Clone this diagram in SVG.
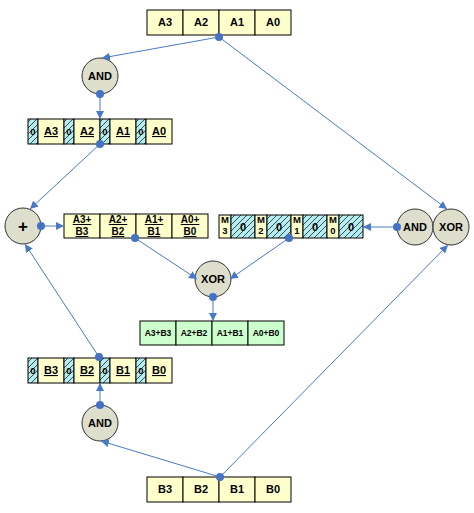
<svg xmlns="http://www.w3.org/2000/svg" width="474" height="513" viewBox="0 0 474 513">
<defs>
<pattern id="hatch" patternUnits="userSpaceOnUse" width="6" height="6">
<rect width="6" height="6" fill="#b4eef2"/>
<path d="M-1,7 L7,-1 M-4,4 L4,-4 M2,10 L10,2" stroke="#222" stroke-width="0.8"/>
</pattern>
<marker id="arr" viewBox="0 0 10 10" refX="10" refY="5" markerWidth="8" markerHeight="8" markerUnits="userSpaceOnUse" orient="auto">
<path d="M0,0 L10,5 L0,10 z" fill="#4a78c8"/>
</marker>
</defs>
<style>
text{font-family:"Liberation Sans",Arial,sans-serif;font-weight:bold;fill:#000;text-anchor:middle}
.y{fill:#ffffcc;stroke:#000;stroke-width:1}
.g{fill:#ccffcc;stroke:#000;stroke-width:1}
.h{fill:url(#hatch);stroke:#000;stroke-width:1}
.c{fill:#dddecb;stroke:#333;stroke-width:1}
.t{font-size:11px}
.s{font-size:10px;text-decoration:underline}
.z{font-size:9.5px}
.r{font-size:8.5px}
.ln{stroke:#4a78c8;stroke-width:1;fill:none;marker-end:url(#arr)}
.d{fill:#4472c4}
</style>

<g id="regA">
<rect class="y" x="147" y="10" width="36" height="25"/>
<rect class="y" x="183" y="10" width="36" height="25"/>
<rect class="y" x="219" y="10" width="36" height="25"/>
<rect class="y" x="255" y="10" width="36" height="25"/>
<text class="t" x="165" y="26">A3</text>
<text class="t" x="201" y="26">A2</text>
<text class="t" x="237" y="26">A1</text>
<text class="t" x="273" y="26">A0</text>
</g>

<g id="andTop">
<circle class="c" cx="100" cy="76" r="18"/>
<text class="t" x="100" y="80">AND</text>
</g>

<g id="regAshift">
<rect class="h" x="28" y="119" width="10" height="25"/>
<rect class="y" x="38" y="119" width="26" height="25"/>
<rect class="h" x="64" y="119" width="10" height="25"/>
<rect class="y" x="74" y="119" width="26" height="25"/>
<rect class="h" x="100" y="119" width="10" height="25"/>
<rect class="y" x="110" y="119" width="26" height="25"/>
<rect class="h" x="136" y="119" width="10" height="25"/>
<rect class="y" x="146" y="119" width="26" height="25"/>
<text class="z" x="33" y="135">0</text>
<text class="z" x="69" y="135">0</text>
<text class="z" x="105" y="135">0</text>
<text class="z" x="141" y="135">0</text>
<text class="t" x="51" y="135" text-decoration="underline">A3</text>
<text class="t" x="87" y="135" text-decoration="underline">A2</text>
<text class="t" x="123" y="135" text-decoration="underline">A1</text>
<text class="t" x="159" y="135" text-decoration="underline">A0</text>
</g>

<g id="plus">
<circle class="c" cx="23" cy="226" r="18"/>
<text x="23" y="232" font-size="17px">+</text>
</g>

<g id="sum">
<rect class="y" x="64" y="214" width="36" height="24"/>
<rect class="y" x="100" y="214" width="36" height="24"/>
<rect class="y" x="136" y="214" width="36" height="24"/>
<rect class="y" x="172" y="214" width="36" height="24"/>
<text class="s" x="82" y="223">A3+</text>
<text class="s" x="82" y="235">B3</text>
<text class="s" x="118" y="223">A2+</text>
<text class="s" x="118" y="235">B2</text>
<text class="s" x="154" y="223">A1+</text>
<text class="s" x="154" y="235">B1</text>
<text class="s" x="190" y="223">A0+</text>
<text class="s" x="190" y="235">B0</text>
</g>

<g id="mreg">
<rect class="y" x="219" y="215" width="12" height="23"/>
<rect class="h" x="231" y="215" width="24" height="23"/>
<rect class="y" x="255" y="215" width="12" height="23"/>
<rect class="h" x="267" y="215" width="24" height="23"/>
<rect class="y" x="291" y="215" width="12" height="23"/>
<rect class="h" x="303" y="215" width="24" height="23"/>
<rect class="y" x="327" y="215" width="12" height="23"/>
<rect class="h" x="339" y="215" width="24" height="23"/>
<text class="z" x="225" y="223">M</text><text class="z" x="225" y="234">3</text>
<text class="z" x="261" y="223">M</text><text class="z" x="261" y="234">2</text>
<text class="z" x="297" y="223">M</text><text class="z" x="297" y="234">1</text>
<text class="z" x="333" y="223">M</text><text class="z" x="333" y="234">0</text>
<text class="t" x="243" y="231">0</text>
<text class="t" x="279" y="231">0</text>
<text class="t" x="315" y="231">0</text>
<text class="t" x="351" y="231">0</text>
</g>

<g id="andRight">
<circle class="c" cx="415" cy="227" r="18"/>
<text class="t" x="415" y="231">AND</text>
</g>
<g id="xorRight">
<circle class="c" cx="451" cy="227" r="18"/>
<text class="t" x="451" y="231">XOR</text>
</g>

<g id="xorMid">
<circle class="c" cx="213" cy="279" r="18"/>
<text class="t" x="213" y="283">XOR</text>
</g>

<g id="result">
<rect class="g" x="140" y="321" width="36" height="24"/>
<rect class="g" x="176" y="321" width="36" height="24"/>
<rect class="g" x="212" y="321" width="36" height="24"/>
<rect class="g" x="248" y="321" width="36" height="24"/>
<text class="r" x="158" y="336">A3+B3</text>
<text class="r" x="194" y="336">A2+B2</text>
<text class="r" x="230" y="336">A1+B1</text>
<text class="r" x="266" y="336">A0+B0</text>
</g>

<g id="regBshift">
<rect class="h" x="28" y="358" width="10" height="25"/>
<rect class="y" x="38" y="358" width="26" height="25"/>
<rect class="h" x="64" y="358" width="10" height="25"/>
<rect class="y" x="74" y="358" width="26" height="25"/>
<rect class="h" x="100" y="358" width="10" height="25"/>
<rect class="y" x="110" y="358" width="26" height="25"/>
<rect class="h" x="136" y="358" width="10" height="25"/>
<rect class="y" x="146" y="358" width="26" height="25"/>
<text class="z" x="33" y="374">0</text>
<text class="z" x="69" y="374">0</text>
<text class="z" x="105" y="374">0</text>
<text class="z" x="141" y="374">0</text>
<text class="t" x="51" y="374" text-decoration="underline">B3</text>
<text class="t" x="87" y="374" text-decoration="underline">B2</text>
<text class="t" x="123" y="374" text-decoration="underline">B1</text>
<text class="t" x="159" y="374" text-decoration="underline">B0</text>
</g>

<g id="andBottom">
<circle class="c" cx="100" cy="423" r="18"/>
<text class="t" x="100" y="427">AND</text>
</g>

<g id="regB">
<rect class="y" x="147" y="477" width="36" height="25"/>
<rect class="y" x="183" y="477" width="36" height="25"/>
<rect class="y" x="219" y="477" width="36" height="25"/>
<rect class="y" x="255" y="477" width="36" height="25"/>
<text class="t" x="165" y="493">B3</text>
<text class="t" x="201" y="493">B2</text>
<text class="t" x="237" y="493">B1</text>
<text class="t" x="273" y="493">B0</text>
</g>

<g id="connectors">
<path class="ln" d="M219,37 L102,58"/>
<path class="ln" d="M219,37 L447,209"/>
<path class="ln" d="M100,94 L100,119"/>
<path class="ln" d="M100,144 L30,209"/>
<path class="ln" d="M41,226 L64,226"/>
<path class="ln" d="M135,238 L197,279"/>
<path class="ln" d="M289,238 L230,279"/>
<path class="ln" d="M213,297 L213,321"/>
<path class="ln" d="M397,227 L363,227"/>
<path class="ln" d="M99,357 L25,244"/>
<path class="ln" d="M100,405 L100,383"/>
<path class="ln" d="M220,477 L101,441"/>
<path class="ln" d="M220,477 L448,245"/>
<circle class="d" cx="219" cy="37" r="4"/>
<circle class="d" cx="100" cy="94" r="4"/>
<circle class="d" cx="100" cy="144" r="4"/>
<circle class="d" cx="41" cy="226" r="4"/>
<circle class="d" cx="135" cy="238" r="4"/>
<circle class="d" cx="289" cy="238" r="4"/>
<circle class="d" cx="213" cy="297" r="4"/>
<circle class="d" cx="397" cy="227" r="4"/>
<circle class="d" cx="99" cy="357" r="4"/>
<circle class="d" cx="100" cy="405" r="4"/>
<circle class="d" cx="220" cy="477" r="4"/>
</g>
</svg>
